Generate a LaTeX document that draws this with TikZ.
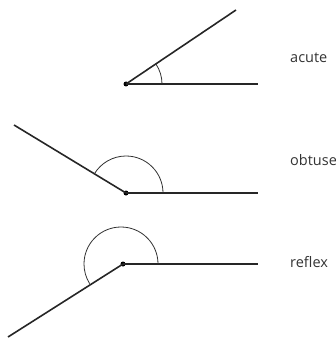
\documentclass[tikz,border=0pt]{standalone}
\usepackage{fontspec}
\setmainfont{Open Sans}
\begin{document}
\begin{tikzpicture}[x=1pt,y=-1pt,
  ray/.style={line width=1.6pt,black!85},
  anglearc/.style={line width=0.8pt,black!80},
  vertex/.style={circle,fill=black,inner sep=0pt,minimum size=5pt},
  lbl/.style={anchor=base west,inner sep=0pt,font=\fontsize{14.5}{17}\selectfont,text=black!80}]
\useasboundingbox (0,0) rectangle (335,339);
% acute
\node[vertex] (v1) at (126,84) {};
\coordinate (h1) at (258,84);
\coordinate (r1) at (236,10);
\draw[ray] (v1.center) -- (h1);
\draw[ray] (v1.center) -- (r1);
\draw[anglearc] (162,84) arc[start angle=0,end angle=-34,radius=36];
\node[lbl] (t1) at (290,63) {acute};
% obtuse
\node[vertex] (v2) at (126,193) {};
\coordinate (h2) at (258,193);
\coordinate (r2) at (14,125);
\draw[ray] (v2.center) -- (h2);
\draw[ray] (v2.center) -- (r2);
\draw[anglearc] (163,193) arc[start angle=0,end angle=-149,radius=37];
\node[lbl] (t2) at (290,165) {obtuse};
% reflex
\node[vertex] (v3) at (123,264) {};
\coordinate (h3) at (258,264);
\coordinate (r3) at (8,337);
\draw[ray] (v3.center) -- (h3);
\draw[ray] (v3.center) -- (r3);
\draw[anglearc] (158,264) arc[start angle=0,end angle=-212,radius=37];
\node[lbl] (t3) at (290,267) {reflex};
\end{tikzpicture}
\end{document}
